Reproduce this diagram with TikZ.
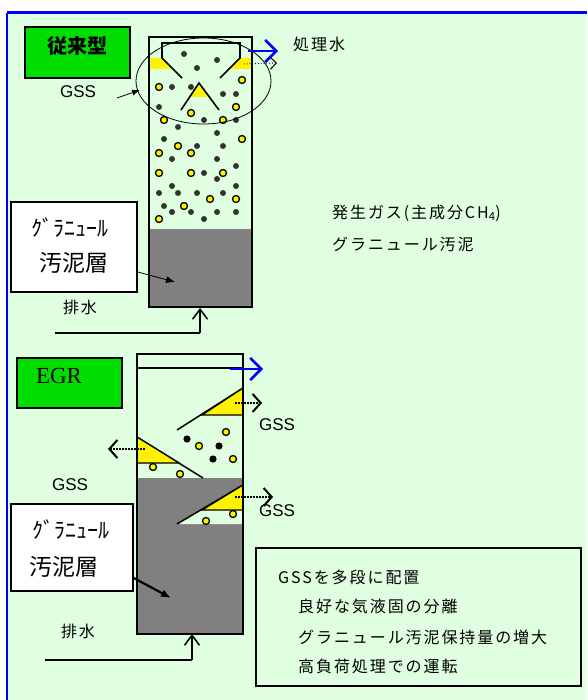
\documentclass[tikz,border=0pt]{standalone}
\usepackage{fontspec}
\setmainfont{Liberation Serif}
\newfontfamily\jp{Noto Sans CJK JP}
\newfontfamily\jpwide{Noto Sans CJK JP}[LetterSpace=12]
\newfontfamily\arial{Liberation Sans}
\usetikzlibrary{arrows.meta}

\definecolor{pale}{RGB}{224,255,224}
\definecolor{sludge}{RGB}{128,128,128}
\definecolor{gasdark}{RGB}{51,51,51}
\definecolor{tag}{RGB}{0,221,0}

\tikzset{
  wall/.style = {line width=2pt},
  gasdot/.style = {fill=gasdark},
  granule/.style = {fill=yellow, draw=black, line width=1.3pt},
  sep/.style = {fill=yellow, draw=black, line width=1.3pt},
  outflow/.style = {blue, line width=2.5pt, -{Straight Barb[length=11pt,width=22pt,line width=2.5pt]}},
  vent/.style = {dash pattern=on 1.6pt off 1.4pt, line width=2pt, -{Straight Barb[length=8pt,width=18pt,line width=2pt]}},
  inflow/.style = {line width=1.5pt, -{Straight Barb[length=10pt,width=15pt,line width=1.5pt]}},
  jtext/.style = {font=\jpwide\fontsize{16}{18}\selectfont, inner sep=0pt},
  gss/.style = {font=\arial\fontsize{17}{19}\selectfont, inner sep=0pt},
  labelbox/.style = {draw, line width=1.5pt, fill=white}
}

\begin{document}
\begin{tikzpicture}[x=1pt, y=-1pt]
\useasboundingbox (0,0) rectangle (587,700);
% background and frame
\fill [white] (0,0) rectangle (587,700);
\fill [pale] (7,13) rectangle (587,700);
\draw [blue, line width=3pt] (7,13) -- (587,13);
\draw [blue, line width=2.5pt] (7,13) -- (7,700);

% ---- conventional reactor ----
\node [draw, line width=1.5pt, fill=tag, minimum width=105pt, minimum height=51pt] (tag1) at (77.5,52.5) {};
\node [font=\jp\bfseries\fontsize{20}{22}\selectfont] (tag1txt) at (77,46) {従来型};
\fill [sludge] (149,229) rectangle (252,307);
% gas dots and granules
\foreach \p in {(184,54),(217,60),(197,68),(172,87),(191,87),(223,94),(236,94),(159,107),
  (204,120),(236,120),(178,127),(217,133),(164,139),(197,146),(223,146),(172,159),(217,159),
  (204,173),(236,166),(217,179),(172,186),(159,193),(178,193),(197,193),(223,193),(236,186),
  (164,206),(172,212),(191,212),(217,212),(236,212),(204,219)}
  \fill [gasdot] \p circle (3);
\foreach \p in {(242,80),(159,87),(236,107),(191,113),(164,120),(223,120),(242,139),(178,146),
  (159,153),(191,153),(159,173),(191,173),(223,173),(210,199),(236,199),(184,206),(159,219)}
  \draw [granule] \p circle (3.5);
% separator at the top
\fill [yellow] (150,58) -- (162,58) -- (173,69) -- (150,69) -- cycle;
\fill [yellow] (251,58) -- (240,58) -- (229,69) -- (251,69) -- cycle;
\fill [yellow] (199,84) -- (190,97) -- (208,97) -- cycle;
\draw [line width=1.6pt] (182,78) -- (162,58) -- (162,43) -- (240,43) -- (240,58) -- (220,78);
\draw [line width=1.6pt] (181,110) -- (199,83) -- (219,110);
\draw [wall] (149,37) rectangle (252,307);
\draw [line width=0.8pt] (203.5,81) ellipse [x radius=67.5, y radius=43];
\coordinate (out1a) at (248,51);
\coordinate (out1b) at (278,51);
\draw [outflow] (out1a) -- (out1b);
\coordinate (vent1a) at (244,64);
\coordinate (vent1b) at (277,63);
\draw [dotted, line width=0.8pt, -{Straight Barb[length=6pt,width=12pt,line width=1pt]}] (vent1a) -- (vent1b);
\node [jtext, anchor=west] (effluent) at (293,44) {処理水};
\node [gss] (gss1) at (78,92) {GSS};
\coordinate (gss1ptr) at (140,90);
\draw [line width=0.8pt, -{Latex[length=8pt,width=6pt]}] (117,98) -- (gss1ptr);
% inlet
\coordinate (in1a) at (55,333);
\coordinate (in1b) at (200,333);
\coordinate (in1c) at (200,308);
\draw [line width=1.5pt] (in1a) -- (in1b);
\draw [inflow] (in1b) -- (in1c);
\node [jtext] (drain1) at (80,307) {排水};
% granule bed label
\node [labelbox, minimum width=126pt, minimum height=90pt] (bed1) at (74,247) {};
\node [font=\jp\fontsize{22}{24}\selectfont, inner sep=0pt] (bed1a) at (70,228) {ｸﾞﾗﾆｭｰﾙ};
\node [font=\jp\fontsize{23}{25}\selectfont, inner sep=0pt] (bed1b) at (74,263) {汚泥層};
\coordinate (bed1ptr) at (175,282);
\draw [line width=0.8pt, -{Latex[length=9pt,width=7pt]}] (bed1.east |- 0,272) -- (bed1ptr);

% legend text
\node [jtext, anchor=west] (legend1) at (332,213) {発生ガス(主成分CH\textsubscript{4})};
\node [jtext, anchor=west] (legend2) at (332,244) {グラニュール汚泥};

% ---- EGR reactor ----
\node [draw, line width=1.5pt, fill=tag, minimum width=105pt, minimum height=50pt] (tag2) at (69.5,383) {};
\node [font=\fontsize{23}{25}\selectfont, inner sep=0pt] (tag2txt) at (59,376) {EGR};
\fill [sludge] (137,478) rectangle (243,634);
\fill [pale] (177,524) -- (243,485) -- (243,524) -- cycle;
% separators
\draw [line width=1.5pt] (177,430) -- (243,388);
\draw [sep] (202,415) -- (243,388) -- (243,415) -- cycle;
\draw [line width=1.5pt] (137,437) -- (203,478);
\draw [sep] (137,437) -- (179,463) -- (137,463) -- cycle;
\draw [line width=1.5pt] (177,524) -- (243,485);
\draw [sep] (202,510) -- (243,485) -- (243,510) -- cycle;
% particles
\foreach \p in {(187,439),(219,446),(213,459)}
  \fill [black] \p circle (3.6);
\foreach \p in {(226,432),(199,446),(233,459),(153,467),(180,474),(233,514),(206,521)}
  \draw [granule] \p circle (3.5);
\draw [wall] (137,354) rectangle (243,634);
\draw [line width=1.5pt] (137,368) -- (243,368);
\coordinate (out2a) at (230,369);
\coordinate (out2b) at (263,369);
\draw [outflow] (out2a) -- (out2b);
\coordinate (vent2a) at (235,403);
\coordinate (vent2b) at (262,403);
\draw [vent] (vent2a) -- (vent2b);
\coordinate (vent3a) at (145,449);
\coordinate (vent3b) at (108,449);
\draw [vent] (vent3a) -- (vent3b);
\coordinate (vent4a) at (235,497);
\coordinate (vent4b) at (273,497);
\draw [vent] (vent4a) -- (vent4b);
\node [gss] (gss2) at (277,425) {GSS};
\node [gss] (gss3) at (70,485) {GSS};
\node [gss] (gss4) at (277,511) {GSS};
% inlet
\coordinate (in2a) at (45,660);
\coordinate (in2b) at (192,660);
\coordinate (in2c) at (192,634);
\draw [line width=1.5pt] (in2a) -- (in2b);
\draw [inflow] (in2b) -- (in2c);
\node [jtext] (drain2) at (78,631) {排水};
% granule bed label
\node [labelbox, minimum width=122pt, minimum height=87pt] (bed2) at (72,547.5) {};
\node [font=\jp\fontsize{22}{24}\selectfont, inner sep=0pt] (bed2a) at (71,530) {ｸﾞﾗﾆｭｰﾙ};
\node [font=\jp\fontsize{23}{25}\selectfont, inner sep=0pt] (bed2b) at (64,567) {汚泥層};
\coordinate (bed2ptr) at (171,598);
\draw [line width=2.2pt, -{Latex[length=10pt,width=8pt]}] (bed2.east |- 0,578) -- (bed2ptr);

% summary
\node [draw, line width=2pt, minimum width=325pt, minimum height=138pt] (summary) at (418.5,617) {};
\node [jtext, anchor=west] (sum1) at (278,577) {GSSを多段に配置};
\node [jtext, anchor=west] (sum2) at (298,606) {良好な気液固の分離};
\node [jtext, anchor=west] (sum3) at (298,637) {グラニュール汚泥保持量の増大};
\node [jtext, anchor=west] (sum4) at (298,666) {高負荷処理での運転};
\end{tikzpicture}
\end{document}
